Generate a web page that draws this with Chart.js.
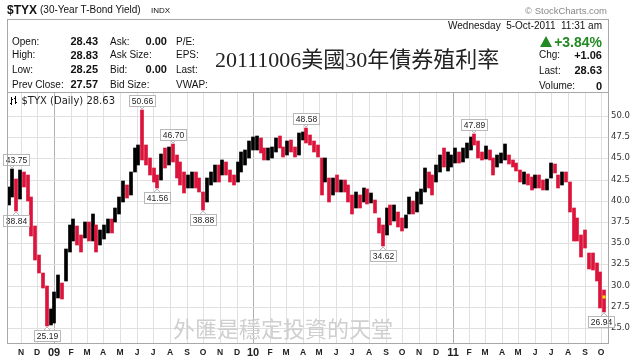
<!DOCTYPE html>
<html><head><meta charset="utf-8">
<script src="https://cdn.jsdelivr.net/npm/chart.js@4.4.1/dist/chart.umd.min.js"></script>
<style>
html,body{margin:0;padding:0;background:#fff;}
#wrap{position:relative;width:640px;height:362px;overflow:hidden;font-family:"Liberation Sans",Arial,sans-serif;color:#111;}
#c{position:absolute;left:0;top:0;}
.t{position:absolute;white-space:pre;line-height:1;}
.b{font-weight:bold;font-size:11px;}
.l{font-size:10px;}
.frame{position:absolute;left:7px;top:19px;width:600px;height:323px;border:1px solid #a8a8a8;pointer-events:none;}
.sep{position:absolute;left:7px;top:92px;width:601px;height:1px;background:#a8a8a8;}
.tri{position:absolute;left:540px;top:36px;width:0;height:0;border-left:6.5px solid transparent;border-right:6.5px solid transparent;border-bottom:11px solid #238a23;}
</style></head>
<body>
<div id="wrap">
<canvas id="c" width="640" height="362"></canvas>
<div class="frame"></div>
<div class="sep"></div>
<span class="t" style="left:7px;top:4px;font-weight:bold;font-size:12px;">$TYX</span>
<span class="t" style="left:40px;top:5px;font-size:10px;">(30-Year T-Bond Yield)</span>
<span class="t" style="left:151px;top:7px;font-size:8px;">INDX</span>
<span class="t" style="right:33px;top:6px;font-size:9.5px;color:#888;">© StockCharts.com</span>

<span class="t l" style="left:12px;top:36.5px;">Open:</span>
<span class="t l" style="left:12px;top:50px;">High:</span>
<span class="t l" style="left:12px;top:64.5px;">Low:</span>
<span class="t l" style="left:12px;top:79.5px;">Prev Close:</span>
<span class="t b" style="right:542px;top:36px;">28.43</span>
<span class="t b" style="right:542px;top:49.5px;">28.83</span>
<span class="t b" style="right:542px;top:64px;">28.25</span>
<span class="t b" style="right:542px;top:79px;">27.57</span>
<span class="t l" style="left:110px;top:36.5px;">Ask:</span>
<span class="t l" style="left:110px;top:50px;">Ask Size:</span>
<span class="t l" style="left:110px;top:64.5px;">Bid:</span>
<span class="t l" style="left:110px;top:79.5px;">Bid Size:</span>
<span class="t b" style="right:473px;top:36px;">0.00</span>
<span class="t b" style="right:473px;top:64px;">0.00</span>
<span class="t l" style="left:176px;top:36.5px;">P/E:</span>
<span class="t l" style="left:176px;top:50px;">EPS:</span>
<span class="t l" style="left:176px;top:64.5px;">Last:</span>
<span class="t l" style="left:176px;top:79.5px;">VWAP:</span>

<span class="t" style="left:215px;top:49px;font-size:22px;font-family:'Liberation Serif','Noto Sans CJK TC',serif;color:#222;">20111006美國30年債券殖利率</span>

<span class="t l" style="right:38px;top:21px;">Wednesday  5-Oct-2011  11:31 am</span>
<div class="tri"></div>
<span class="t" style="right:38px;top:34.7px;font-weight:bold;font-size:14px;color:#238a23;">+3.84%</span>
<span class="t l" style="left:539px;top:50px;">Chg:</span>
<span class="t l" style="left:539px;top:65.8px;">Last:</span>
<span class="t l" style="left:539px;top:81px;">Volume:</span>
<span class="t b" style="right:38px;top:49.5px;">+1.06</span>
<span class="t b" style="right:38px;top:65.3px;">28.63</span>
<span class="t b" style="right:38px;top:80.5px;">0</span>

<span class="t" style="left:173px;top:316px;font-size:22px;font-family:'Noto Sans CJK TC',sans-serif;color:#cfcfcf;">外匯是穩定投資的天堂</span>
</div>
<script>
// ---- data: weekly high / low / close of $TYX, weeks starting Thu 2008-10-09 ----
const firstWeek = [2008, 9, 9];
const highs = [
 41.6,43.75,42.6,43.6,43.4,43.0,40.5,37.0,33.6,31.5,
 30.0,27.2,29.2,31.3,30.3,34.3,37.2,37.8,37.0,36.0,
 37.5,37.5,38.4,37.2,36.5,37.2,37.8,37.8,39.2,40.4,
 42.3,41.9,43.4,46.2,46.6,50.66,46.6,45.0,43.9,43.0,
 45.5,46.2,46.3,46.70,45.4,44.6,43.4,43.0,43.4,43.4,
 42.7,41.0,42.7,43.4,44.2,44.2,44.8,44.6,43.6,43.0,
 44.6,45.7,46.0,47.0,47.5,47.6,47.4,46.2,46.2,46.3,
 47.4,47.6,46.4,47.0,47.2,46.3,48.0,48.1,48.58,47.8,
 47.0,46.6,45.0,45.0,42.7,42.7,43.0,42.5,42.5,41.9,
 40.7,41.0,40.7,41.5,41.4,40.9,40.1,38.0,37.2,39.2,
 39.5,39.5,38.7,38.0,38.3,40.4,40.0,41.0,41.4,43.9,
 43.4,43.0,44.2,45.4,46.2,45.8,45.4,46.2,45.8,46.2,
 46.8,47.5,47.89,47.0,45.8,46.5,46.0,45.0,45.4,45.6,
 46.7,45.4,44.8,44.5,43.6,43.4,43.2,42.8,43.0,43.0,
 42.5,42.6,44.5,44.3,43.0,43.4,43.4,42.2,39.2,38.0,
 36.0,36.6,33.8,33.8,32.7,31.6,29.5
];
const lows = [
 39.5,40.5,38.84,40.2,41.6,40.0,35.8,33.0,31.5,29.7,
 25.19,25.4,25.6,28.5,28.4,30.5,34.0,35.2,34.8,34.0,
 35.6,35.2,35.3,34.0,34.8,35.5,36.2,36.2,37.5,38.4,
 39.9,40.3,40.7,43.4,44.2,44.8,44.2,43.0,42.2,41.56,
 42.5,43.9,44.2,44.6,42.7,41.9,40.9,41.5,41.5,41.5,
 41.0,38.88,39.9,41.9,42.2,42.2,43.0,43.0,42.2,41.9,
 42.2,43.4,44.2,45.0,46.0,46.0,45.6,44.8,44.8,45.0,
 45.8,46.2,45.2,45.4,45.8,45.2,45.4,47.2,46.8,46.6,
 45.8,45.2,40.7,42.2,39.9,40.7,41.0,41.0,41.0,39.9,
 38.4,39.2,39.2,39.9,39.6,39.7,38.6,36.2,34.62,36.0,
 37.2,37.6,36.9,36.4,36.8,38.4,38.4,38.7,39.6,41.0,
 41.5,40.7,42.2,43.4,44.0,43.5,44.0,44.5,44.5,44.6,
 45.0,46.0,46.6,45.0,44.8,44.9,44.8,43.0,44.0,44.5,
 44.8,44.3,44.0,43.5,42.2,42.0,41.9,41.3,41.5,41.5,
 41.3,41.3,42.7,43.3,41.5,41.9,42.2,38.7,35.2,35.2,
 33.4,34.4,32.0,31.8,30.5,27.4,26.94
];
const closes = [
 41.0,42.5,40.0,43.0,42.3,40.2,36.0,33.5,32.0,30.8,
 26.5,26.8,28.8,29.5,28.8,33.8,36.0,37.5,35.5,34.5,
 37.0,35.8,36.8,36.0,36.0,36.5,37.5,36.8,38.8,40.0,
 41.5,40.8,43.0,45.5,45.8,45.5,44.8,43.5,42.5,42.2,
 45.0,44.5,45.5,45.2,43.5,43.0,41.8,42.0,42.8,42.2,
 41.2,39.8,42.5,42.5,43.5,43.0,44.2,43.5,42.6,42.3,
 44.0,45.0,45.5,46.5,46.8,47.0,45.8,45.2,45.5,45.5,
 46.8,46.5,45.5,46.2,46.0,45.5,47.5,47.8,47.2,46.8,
 46.3,45.4,42.8,43.0,40.5,42.0,41.8,42.3,41.8,40.2,
 39.0,40.5,39.5,41.0,40.0,40.5,38.8,36.5,35.5,38.5,
 38.0,39.0,37.2,37.0,38.0,39.8,39.0,40.0,40.8,43.0,
 42.5,41.5,43.5,44.8,44.5,44.5,44.8,45.5,44.8,45.5,
 46.5,47.2,47.0,45.5,45.2,45.8,45.0,44.0,44.8,45.2,
 45.5,44.6,44.2,43.8,42.6,42.8,42.3,41.8,42.0,41.8,
 41.5,42.0,44.0,43.5,42.2,43.0,42.5,39.2,36.5,35.5,
 35.0,34.6,33.0,32.5,30.8,29.0,28.63
];
const monthLetters = ['J','F','M','A','M','J','J','A','S','O','N','D'];
const yTickValues = [25.0,27.5,30.0,32.5,35.0,37.5,40.0,42.5,45.0,47.5,50.0];
const callouts = [[1,'H'],[2,'L'],[10,'L'],[35,'H'],[39,'L'],[43,'H'],[51,'L'],[78,'H'],[98,'L'],[122,'H'],[156,'L']];
const legendText = '$TYX (Daily) 28.63';

// ---- helpers ----
const DAY = 86400000, ORIGIN = Date.UTC(2009,0,1);
const dayNum = (y,m,d) => (Date.UTC(y,m,d) - ORIGIN) / DAY;
const w0 = dayNum(...firstWeek);
const weekDays = highs.map((_, i) => w0 + 7 * i);
const barColors = closes.map((c, i) => (i === 0 || c >= closes[i-1]) ? '#000000' : '#dc143c');

const monthTicks = [];
for (let y = 2008, m = 10; y < 2011 || (y === 2011 && m <= 9);) {
  monthTicks.push({value: dayNum(y, m, 1), y, m});
  m++; if (m > 11) { m = 0; y++; }
}
const tickInfo = v => monthTicks.find(t => Math.abs(t.value - v) < 0.5);

const overlay = {
  id: 'overlay',
  afterDatasetsDraw(chart) {
    const {ctx, scales: {x, y}} = chart;
    ctx.save();
    // legend icon + text
    ctx.strokeStyle = '#000'; ctx.lineWidth = 1;
    ctx.beginPath();
    ctx.moveTo(11.5, 97); ctx.lineTo(11.5, 105); ctx.moveTo(10, 103.5); ctx.lineTo(11.5, 103.5);
    ctx.moveTo(11.5, 99.5); ctx.lineTo(13, 99.5);
    ctx.moveTo(15.5, 96); ctx.lineTo(15.5, 104); ctx.moveTo(14, 98.5); ctx.lineTo(15.5, 98.5);
    ctx.moveTo(15.5, 102.5); ctx.lineTo(17, 102.5);
    ctx.stroke();
    ctx.fillStyle = '#222';
    ctx.font = '10px "DejaVu Sans"';
    ctx.textBaseline = 'middle'; ctx.textAlign = 'left';
    ctx.fillText(legendText, 21.5, 101);
    // callouts
    ctx.font = '8.5px "Liberation Sans"';
    callouts.forEach(([i, kind]) => {
      const v = kind === 'H' ? highs[i] : lows[i];
      const txt = v.toFixed(2);
      const px = x.getPixelForValue(weekDays[i]);
      const py = y.getPixelForValue(v);
      const tw = ctx.measureText(txt).width;
      const bw = Math.round(tw + 5), bh = 11;
      let bx = Math.round(px - bw / 2);
      bx = Math.max(3, Math.min(bx, 614 - bw));
      const by = kind === 'H' ? Math.round(py - 4 - bh) : Math.round(py + 4);
      ctx.fillStyle = '#fff'; ctx.strokeStyle = '#b8b8b8';
      ctx.beginPath();
      if (kind === 'H') {
        ctx.moveTo(px - 3, by + bh); ctx.lineTo(px, py - 1); ctx.lineTo(px + 3, by + bh);
      } else {
        ctx.moveTo(px - 3, by); ctx.lineTo(px, py + 1); ctx.lineTo(px + 3, by);
      }
      ctx.fill(); ctx.stroke();
      ctx.fillRect(bx + 0.5, by + 0.5, bw, bh);
      ctx.strokeRect(bx + 0.5, by + 0.5, bw, bh);
      ctx.fillStyle = '#222'; ctx.textAlign = 'center';
      ctx.fillText(txt, bx + 0.5 + bw / 2, by + 0.5 + bh / 2 + 0.5);
    });
    // last price marker
    const lx = x.getPixelForValue(weekDays[weekDays.length - 1]);
    const ly = y.getPixelForValue(closes[closes.length - 1]);
    ctx.fillStyle = '#ffe600';
    ctx.fillRect(lx - 1.5, ly - 1.5, 3, 3);
    ctx.restore();
  }
};

new Chart(document.getElementById('c'), {
  type: 'bar',
  data: {
    datasets: [{
      data: weekDays.map((d, i) => ({x: d, y: [lows[i], highs[i]]})),
      backgroundColor: barColors,
      borderWidth: 0,
      barThickness: 3,
      grouped: false
    }]
  },
  options: {
    responsive: false, animation: false, devicePixelRatio: 1,
    layout: {padding: {left: 8, top: 92, right: 0, bottom: 0}},
    plugins: {legend: {display: false}, tooltip: {enabled: false}, title: {display: false}},
    scales: {
      x: {
        type: 'linear', min: -85, max: 1015, offset: false, alignToPixels: true,
        afterBuildTicks: s => { s.ticks = monthTicks.map(t => ({value: t.value})); },
        afterFit: s => { s.height = 19; },
        grid: {offset: false, drawTicks: false,
          color: c => { const t = c.tick && tickInfo(c.tick.value); return t && t.m === 0 ? '#b0b0b0' : '#e0e0e0'; }},
        border: {display: false},
        ticks: {
          autoSkip: false, maxRotation: 0, padding: 5, color: '#222',
          callback: v => { const t = tickInfo(v); if (!t) return ''; return t.m === 0 ? String(t.y).slice(2) : monthLetters[t.m]; },
          font: c => { const t = c.tick && tickInfo(c.tick.value);
            return (t && t.m === 0) ? {family: 'Liberation Sans', size: 11, weight: 'bold', lineHeight: 10.2 / 11} : {family: 'Liberation Sans', size: 8.5, weight: 'bold', lineHeight: 1.2}; }
        }
      },
      y: {
        type: 'linear', position: 'right', min: 23.23, max: 52.83, alignToPixels: true,
        afterBuildTicks: s => { s.ticks = yTickValues.map(v => ({value: v})); },
        afterFit: s => { s.width = 32; },
        grid: {color: '#e0e0e0', drawTicks: false},
        border: {display: false},
        ticks: {padding: 3, color: '#333', font: {family: 'DejaVu Sans', size: 8.5}, callback: v => Number(v).toFixed(1)}
      }
    }
  },
  plugins: [overlay]
});
</script>
</body></html>
